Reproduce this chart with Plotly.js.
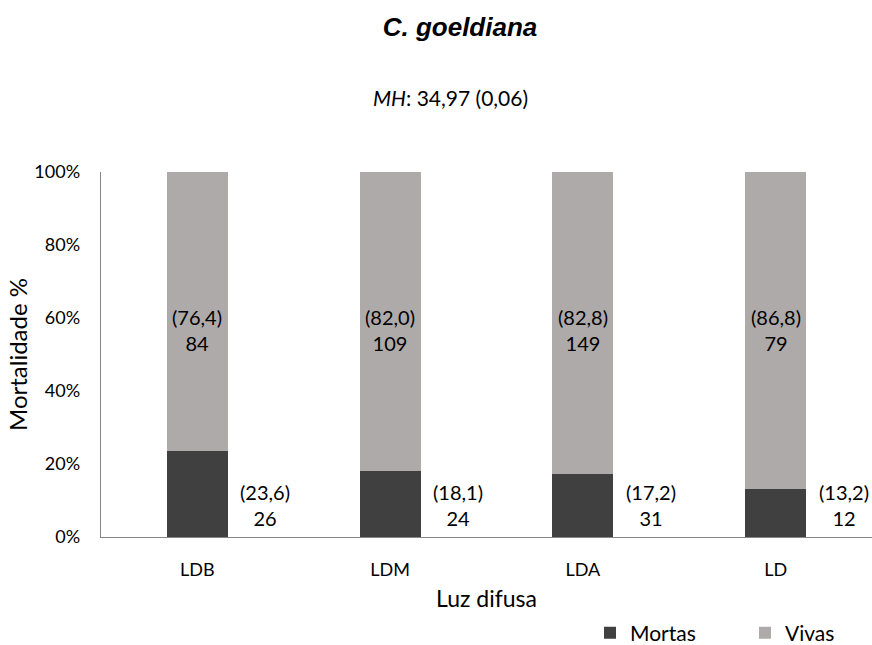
<!DOCTYPE html>
<html>
<head>
<meta charset="utf-8">
<script src="https://cdn.plot.ly/plotly-3.0.1.min.js"></script>
<style>html,body{margin:0;padding:0;background:#fff;}#chart{width:872px;height:645px;}</style>
</head>
<body>
<div id="chart"></div>
<script>
var categories = ['LDB', 'LDM', 'LDA', 'LD'];
var mortasPct = [23.6, 18.1, 17.2, 13.2];
var vivasPct = [76.4, 82.0, 82.8, 86.8];
var mortasN = [26, 24, 31, 12];
var vivasN = [84, 109, 149, 79];
var fmt = function (v) { return v.toFixed(1).replace('.', ','); };

var FONT = 'Lato, "Open Sans", sans-serif';
var traces = [
  {type: 'bar', name: 'Mortas', x: categories, y: mortasPct, width: 0.316,
   marker: {color: '#404040'}, hoverinfo: 'none'},
  {type: 'bar', name: 'Vivas', x: categories, y: vivasPct, width: 0.316,
   marker: {color: '#AEAAAA'}, hoverinfo: 'none'}
];

var annotations = [];
categories.forEach(function (c, i) {
  annotations.push({x: c, y: 56.7, xref: 'x', yref: 'y', showarrow: false,
    text: '(' + fmt(vivasPct[i]) + ')<br>' + vivasN[i],
    font: {family: FONT, size: 20, color: '#000'}});
  annotations.push({x: c, y: 8.8, xref: 'x', yref: 'y', showarrow: false, xshift: 68,
    text: '(' + fmt(mortasPct[i]) + ')<br>' + mortasN[i],
    font: {family: FONT, size: 20, color: '#000'}});
});
annotations.push({xref: 'paper', yref: 'paper', x: (451 - 101) / 772, y: (537 - 97) / 365, showarrow: false,
  xanchor: 'center', yanchor: 'middle',
  text: '<i>MH</i>: 34,97 (0,06)', font: {family: FONT, size: 21, color: '#000'}});

var layout = {
  width: 872, height: 645,
  paper_bgcolor: '#fff', plot_bgcolor: '#fff',
  margin: {l: 101, r: 0, t: 172, b: 108, autoexpand: false},
  barmode: 'stack',
  showlegend: true,
  font: {family: FONT, size: 18, color: '#000'},
  title: {text: '<b><i>C. goeldiana</i></b>', x: 460 / 872, xref: 'container', xanchor: 'center',
          y: 1 - 27 / 645, yref: 'container', yanchor: 'middle',
          font: {family: '"Liberation Sans", Arial, sans-serif', size: 26, color: '#000'}},
  xaxis: {type: 'category', range: [-0.5, 3.5], showline: true, linecolor: '#868686', linewidth: 1.3,
          showgrid: false, zeroline: false, ticks: 'outside', ticklen: 16, tickcolor: 'rgba(0,0,0,0)',
          tickfont: {family: FONT, size: 18},
          title: {text: 'Luz difusa', standoff: 21, font: {family: FONT, size: 23}}},
  yaxis: {range: [0, 100], dtick: 20, ticksuffix: '%', showline: true, linecolor: '#868686', linewidth: 1.3,
          showgrid: false, zeroline: false, ticks: 'outside', ticklen: 16, tickcolor: 'rgba(0,0,0,0)',
          tickfont: {family: FONT, size: 18},
          title: {text: 'Mortalidade %', standoff: 0, font: {family: FONT, size: 24}}},
  legend: {orientation: 'h', xref: 'container', x: 590 / 872, xanchor: 'left',
           yref: 'container', y: 1 - 633 / 645, yanchor: 'middle', tracegroupgap: 0,
           entrywidth: 110, entrywidthmode: 'pixels', font: {family: FONT, size: 21}, traceorder: 'normal'},
  annotations: annotations
};
Plotly.newPlot('chart', traces, layout, {displayModeBar: false, staticPlot: true});
</script>
</body>
</html>
